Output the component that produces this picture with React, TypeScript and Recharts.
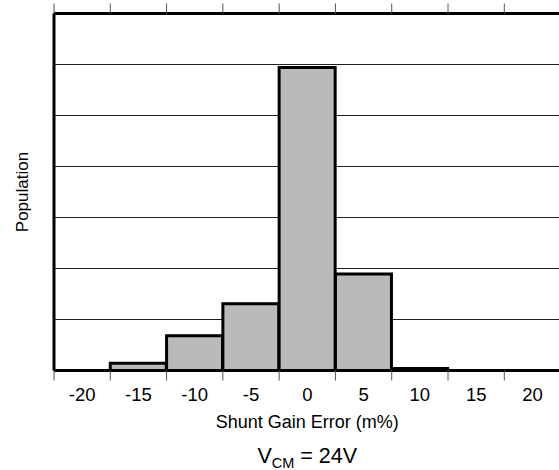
import React from 'react';
import { BarChart, Bar, XAxis, YAxis, CartesianGrid, Label } from 'recharts';

const binCenters = [-15, -10, -5, 0, 5, 10];
const population = [0.14, 0.68, 1.31, 5.94, 1.89, 0.04];
const binEdges = [-22.5, -17.5, -12.5, -7.5, -2.5, 2.5, 7.5, 12.5, 17.5, 22.5];
const tickLabels = [-20, -15, -10, -5, 0, 5, 10, 15, 20];
const gridLevels = [0, 1, 2, 3, 4, 5, 6, 7];
const xTitle = 'Shunt Gain Error (m%)';
const yTitle = 'Population';
const condMain = 'V';
const condSub = 'CM';
const condRest = ' = 24V';

const data = binCenters.map((x, i) => ({ x, pop: population[i] }));
const FONT = '"Liberation Sans", Arial, Helvetica, sans-serif';
const DOMAIN: [number, number] = [-22.5, 22.5];
const blank = () => '';

export default function App() {
  return (
    <div style={{ position: 'absolute', left: 0, top: 0, width: 559, height: 470, overflow: 'hidden', background: '#fff' }}>
      <BarChart
        width={562}
        height={470}
        data={data}
        margin={{ top: 0, right: 1.4, left: 0, bottom: 59.5 }}
        barCategoryGap={0}
        barGap={0}
      >
        <CartesianGrid vertical={false} stroke="#222" strokeWidth={1.2} />
        <XAxis
          xAxisId="top"
          orientation="top"
          type="number"
          dataKey="x"
          domain={DOMAIN}
          ticks={binEdges}
          tickFormatter={blank}
          tickSize={10}
          height={13.5}
          axisLine={{ stroke: '#000', strokeWidth: 3 }}
          tickLine={{ stroke: '#555', strokeWidth: 1 }}
        />
        <XAxis
          type="number"
          dataKey="x"
          domain={DOMAIN}
          ticks={binEdges}
          tickFormatter={blank}
          tickSize={10}
          height={10}
          axisLine={{ stroke: '#000', strokeWidth: 3 }}
          tickLine={{ stroke: '#555', strokeWidth: 1 }}
        />
        <XAxis
          xAxisId="labels"
          type="number"
          dataKey="x"
          domain={DOMAIN}
          ticks={tickLabels}
          interval={0}
          tickSize={0}
          tickMargin={7}
          axisLine={false}
          tickLine={false}
          height={30}
          tick={{ fill: '#000', fontSize: 18.5, fontFamily: FONT }}
        >
          <Label value={xTitle} position="bottom" offset={5} fill="#000" fontSize={18} fontFamily={FONT} />
          <Label
            content={(props: any) => {
              const vb = props.viewBox || {};
              const cx = vb.x + vb.width / 2;
              return (
                <text x={cx} y={vb.y + 82} textAnchor="middle" fill="#000" fontSize={21.5} fontFamily={FONT}>
                  {condMain}
                  <tspan fontSize={14.5} dy={5.5}>{condSub}</tspan>
                  <tspan dy={-5.5}>{condRest}</tspan>
                </text>
              );
            }}
          />
        </XAxis>
        <YAxis
          type="number"
          domain={[0, 7]}
          ticks={gridLevels}
          tickFormatter={blank}
          tickLine={false}
          width={54}
          axisLine={{ stroke: '#000', strokeWidth: 3 }}
        >
          <Label
            content={(props: any) => {
              const vb = props.viewBox || {};
              const cx = vb.x + 28;
              const cy = vb.y + vb.height / 2;
              return (
                <text
                  x={cx}
                  y={cy}
                  transform={`rotate(-90, ${cx}, ${cy})`}
                  textAnchor="middle"
                  fill="#000"
                  fontSize={17}
                  fontFamily={FONT}
                >
                  {yTitle}
                </text>
              );
            }}
          />
        </YAxis>
        <Bar dataKey="pop" fill="#bababa" stroke="#000" strokeWidth={3} isAnimationActive={false} />
      </BarChart>
    </div>
  );
}
